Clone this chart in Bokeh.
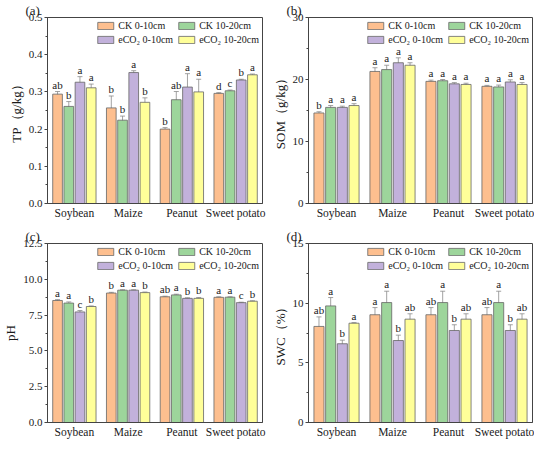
from bokeh.plotting import figure
from bokeh.models import (FactorRange, Range1d, ColumnDataSource, Whisker, TeeHead,
                          SingleIntervalTicker, PrintfTickFormatter, Legend, LegendItem)
from bokeh.transform import dodge
from bokeh.layouts import gridplot
from bokeh.core.properties import value
from bokeh.embed import file_html
from bokeh.resources import INLINE

crops = ["Soybean", "Maize", "Peanut", "Sweet potato"]
series = ["CK 0-10cm", "CK 10-20cm", "eCO₂ 0-10cm", "eCO₂ 10-20cm"]
colors = ["#FDBF8F", "#9DD59B", "#C2B1DB", "#FFFF99"]
offsets = [-0.313, -0.104, 0.104, 0.313]

# (a) TP g/kg  -- rows: series, columns: crops
tp_mean = [[0.294, 0.257, 0.200, 0.296],
           [0.261, 0.224, 0.279, 0.303],
           [0.326, 0.352, 0.313, 0.332],
           [0.311, 0.272, 0.300, 0.346]]
tp_err = [[0.007, 0.032, 0.004, 0.002],
          [0.013, 0.011, 0.022, 0.002],
          [0.015, 0.005, 0.036, 0.002],
          [0.010, 0.012, 0.034, 0.002]]
tp_sig = [["ab", "b", "b", "d"],
          ["b", "b", "ab", "c"],
          ["a", "a", "a", "b"],
          ["a", "b", "a", "a"]]

# (b) SOM g/kg
som_mean = [[14.6, 21.3, 19.7, 18.9],
            [15.5, 21.6, 19.8, 18.8],
            [15.5, 22.7, 19.3, 19.6],
            [15.8, 22.3, 19.2, 19.2]]
som_err = [[0.2, 0.6, 0.2, 0.15],
           [0.3, 0.7, 0.2, 0.3],
           [0.2, 0.8, 0.2, 0.35],
           [0.3, 0.4, 0.2, 0.3]]
som_sig = [["b", "a", "a", "a"],
           ["a", "a", "a", "a"],
           ["a", "a", "a", "a"],
           ["a", "a", "a", "a"]]

# (c) pH
ph_mean = [[8.52, 9.04, 8.78, 8.74],
           [8.34, 9.24, 8.91, 8.75],
           [7.72, 9.24, 8.67, 8.37],
           [8.10, 9.07, 8.67, 8.47]]
ph_err = [[0.06, 0.05, 0.04, 0.04],
          [0.08, 0.03, 0.05, 0.03],
          [0.10, 0.03, 0.04, 0.03],
          [0.04, 0.04, 0.06, 0.03]]
ph_sig = [["a", "b", "ab", "a"],
          ["a", "a", "a", "a"],
          ["c", "a", "b", "c"],
          ["b", "b", "b", "b"]]

# (d) SWC %
swc_mean = [[8.05, 9.03, 9.03, 9.03],
            [9.77, 10.05, 10.05, 10.05],
            [6.60, 6.87, 7.71, 7.71],
            [8.32, 8.66, 8.66, 8.66]]
swc_err = [[0.80, 0.60, 0.60, 0.60],
           [0.70, 0.95, 0.95, 0.95],
           [0.30, 0.45, 0.48, 0.48],
           [0.05, 0.45, 0.45, 0.45]]
swc_sig = [["ab", "a", "ab", "ab"],
           ["a", "a", "a", "a"],
           ["b", "b", "b", "b"],
           ["a", "ab", "ab", "ab"]]

SERIF = "Liberation Serif"
INK = "#1a1a1a"


def make_panel(tag, ylabel, means, errs, sigs, ymax, interval, fmt,
               width, height, bl, br, bt, bb):
    p = figure(x_range=FactorRange(*crops, range_padding=0),
               y_range=Range1d(0, ymax),
               width=width, height=height, output_backend="svg",
               toolbar_location=None, min_border_left=bl, min_border_right=br,
               min_border_top=bt, min_border_bottom=bb)
    p.title.text = tag
    p.title.text_font = SERIF
    p.title.text_font_size = "13px"
    p.title.text_font_style = "normal"
    p.title.text_color = INK
    p.title.align = "left"
    p.title.offset = -22
    p.title.standoff = 0
    p.xgrid.visible = False
    p.ygrid.visible = False
    p.outline_line_color = "#444444"
    p.outline_line_width = 1
    p.background_fill_color = "white"
    p.border_fill_color = "white"

    items = []
    for i in range(4):
        top = means[i]
        upper = [m + e for m, e in zip(means[i], errs[i])]
        lower = [m - e for m, e in zip(means[i], errs[i])]
        src = ColumnDataSource(dict(x=crops, top=top, upper=upper, lower=lower, sig=sigs[i]))
        xs = dodge("x", offsets[i], range=p.x_range)
        r = p.vbar(x=xs, top="top", width=0.18, source=src, fill_color=colors[i],
                   line_color="#666666", line_width=0.8)
        w = Whisker(base=xs, upper="upper", lower="lower", source=src,
                    line_color="#8a8a8a", line_width=0.8,
                    upper_head=TeeHead(size=5, line_color="#8a8a8a", line_width=0.8),
                    lower_head=TeeHead(size=5, line_color="#8a8a8a", line_width=0.8))
        p.add_layout(w)
        p.text(x=xs, y="upper", text="sig", source=src, text_align="center",
               text_baseline="bottom", text_font=value(SERIF), text_font_size="11px",
               text_color=INK, y_offset=-1)
        items.append(LegendItem(label=series[i], renderers=[r]))

    legend = Legend(items=items, location="top_right", orientation="horizontal", ncols=2,
                    glyph_width=20, glyph_height=9, label_standoff=3, spacing=3,
                    padding=0, margin=3, label_text_font=SERIF, label_text_font_size="10px",
                    label_text_color=INK,
                    label_height=9, background_fill_alpha=0, border_line_alpha=0)
    p.add_layout(legend)

    ya = p.yaxis[0]
    ya.ticker = SingleIntervalTicker(interval=interval, num_minor_ticks=2)
    ya.formatter = PrintfTickFormatter(format=fmt)
    ya.axis_label = ylabel
    ya.axis_label_text_font = SERIF
    ya.axis_label_text_font_size = "13px"
    ya.axis_label_text_font_style = "normal"
    ya.axis_label_text_color = INK
    ya.axis_label_standoff = 2
    ya.major_label_text_font = SERIF
    ya.major_label_text_font_size = "11px"
    ya.major_label_text_color = INK
    ya.major_label_standoff = 2
    ya.major_tick_in = 0
    ya.major_tick_out = 3
    ya.minor_tick_in = 0
    ya.minor_tick_out = 2
    ya.axis_line_color = "#444444"
    ya.major_tick_line_color = "#444444"
    ya.minor_tick_line_color = "#444444"

    xa = p.xaxis[0]
    xa.major_label_text_font = SERIF
    xa.major_label_text_font_size = "11.5px"
    xa.major_label_text_color = INK
    xa.major_label_standoff = 3
    xa.major_tick_in = 0
    xa.major_tick_out = 0
    xa.axis_line_color = "#444444"
    return p


pa = make_panel("(a)", "TP（g/kg）", tp_mean, tp_err, tp_sig, 0.5, 0.1, "%.1f",
                267, 226, 37, 5, 13, 23)
pb = make_panel("(b)", "SOM（g/kg）", som_mean, som_err, som_sig, 30, 10, "%d",
                267, 226, 41, 2, 13, 23)
pc = make_panel("(c)", "pH", ph_mean, ph_err, ph_sig, 12.5, 2.5, "%.1f",
                267, 214, 37, 5, 13, 12)
pd_ = make_panel("(d)", "SWC（%）", swc_mean, swc_err, swc_sig, 15, 5, "%d",
                 267, 214, 41, 2, 13, 12)

grid = gridplot([[pa, pb], [pc, pd_]], toolbar_location=None)

open("out.html", "w").write(file_html(grid, INLINE))
